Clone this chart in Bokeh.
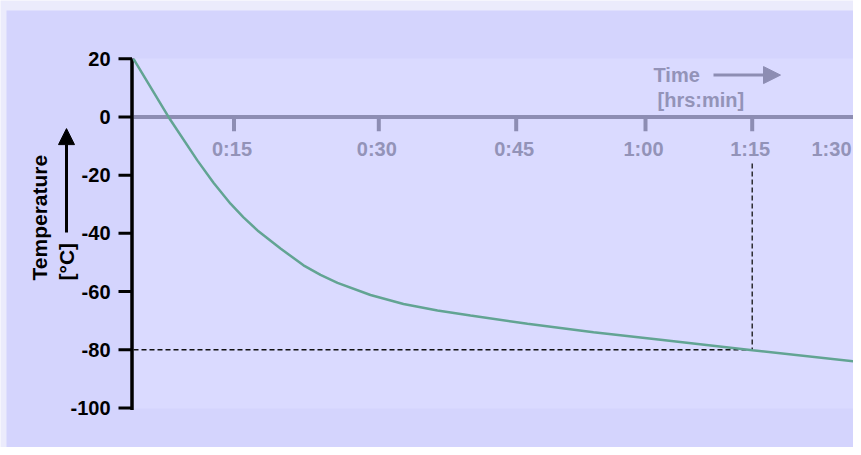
import numpy as np
from bokeh.plotting import figure
from bokeh.models import Range1d, Arrow, NormalHead
from bokeh.core.properties import value
from bokeh.embed import file_html
from bokeh.resources import INLINE

# ---- data ----
y_ticks = [-100, -80, -60, -40, -20, 0, 20]
y_tick_labels = ["-100", "-80", "-60", "-40", "-20", "0", "20"]
time_labels = ["0:15", "0:30", "0:45", "1:00", "1:15", "1:30"]
time_pos = [100.5, 245.3, 382.7, 512.0, 618.7, 700.0]   # place of each time mark along the (non-uniform) time axis
curve_x = [0, 35, 64, 80, 97, 110, 124, 147, 170, 187, 204, 237, 270, 304, 337, 394, 460, 527, 619, 724]
curve_t = [20, 0, -15, -22.6, -29.8, -34.5, -39.0, -45.2, -51.0, -54.3, -57.0, -61.2, -64.3, -66.5,
           -68.2, -71.1, -74.0, -76.6, -80.2, -84.1]
marker_time = 618.7   # 1:15
marker_temp = -80
t_min, t_max = -100.2, 20.1
x_end = 725

FONT = value("Liberation Sans")
AXIS_GRAY = "#8d8db3"
LABEL_GRAY = "#9393b8"
PAGE_BG = "#ebebfc"
PANEL_BG = "#d4d4fd"
INNER_BG = "#dadaff"

k = 350 / (t_max - t_min)             # px per degree
p = figure(width=853, height=447, output_backend="svg", toolbar_location=None,
           x_axis_location=None, y_axis_location=None,
           x_range=Range1d(-133, 720),
           y_range=Range1d(t_max - 389 / k, t_max + 58 / k),
           min_border=0)
p.background_fill_color = PAGE_BG
p.border_fill_color = PAGE_BG
p.outline_line_color = None
p.grid.visible = False

# panels
p.quad(left=[-127], right=[720], bottom=[t_max - 389 / k], top=[t_max + 48 / k],
       fill_color=PANEL_BG, line_color=None)
p.quad(left=[0], right=[x_end], bottom=[t_min], top=[t_max],
       fill_color=INNER_BG, line_color=None)

# x axis drawn at T = 0
p.segment(x0=[0], y0=[0], x1=[x_end], y1=[0], line_color=AXIS_GRAY, line_width=4)
tick_x = time_pos[:5]
p.segment(x0=tick_x, y0=[0] * len(tick_x), x1=tick_x, y1=[-4.9] * len(tick_x),
          line_color=AXIS_GRAY, line_width=4)
p.text(x=time_pos, y=[0] * len(time_pos), text=time_labels, x_offset=-2, y_offset=32,
       text_align="center", text_baseline="middle", text_font=FONT,
       text_font_style="bold", text_font_size="20px", text_color=LABEL_GRAY)

# time axis caption
p.text(x=[520], y=[14.3], text=["Time"], text_align="left", text_baseline="middle",
       text_font=FONT, text_font_style="bold", text_font_size="20px", text_color=LABEL_GRAY)
p.text(x=[524], y=[5.7], text=["[hrs:min]"], text_align="left", text_baseline="middle",
       text_font=FONT, text_font_style="bold", text_font_size="20px", text_color=LABEL_GRAY)
p.add_layout(Arrow(end=NormalHead(size=17, fill_color=AXIS_GRAY, line_color=AXIS_GRAY),
                   x_start=580, y_start=14.4, x_end=647, y_end=14.4,
                   line_color=AXIS_GRAY, line_width=3))

# y axis (temperature)
p.segment(x0=[-1.5], y0=[t_min - 0.5], x1=[-1.5], y1=[t_max], line_color="black", line_width=3.5)
p.segment(x0=[-15] * len(y_ticks), y0=y_ticks, x1=[-1.5] * len(y_ticks), y1=y_ticks,
          line_color="black", line_width=3)
p.text(x=[-23] * len(y_ticks), y=y_ticks, text=y_tick_labels, text_align="right",
       text_baseline="middle", text_font=FONT, text_font_style="bold",
       text_font_size="20px", text_color="black")

# y axis caption
p.text(x=[-94], y=[-56.2], text=["Temperature"], angle=np.pi / 2, text_align="left",
       text_baseline="middle", text_font=FONT, text_font_style="bold",
       text_font_size="21px", text_color="black")
p.text(x=[-67], y=[-56.2], text=["[°C]"], angle=np.pi / 2, text_align="left",
       text_baseline="middle", text_font=FONT, text_font_style="bold",
       text_font_size="21px", text_color="black")
p.add_layout(Arrow(end=NormalHead(size=16, fill_color="black", line_color="black"),
                   x_start=-67, y_start=-39.7, x_end=-67, y_end=-4.0,
                   line_color="black", line_width=3))

# dashed guide lines
p.line(x=[0, marker_time, marker_time], y=[marker_temp, marker_temp, -15.6],
       line_color="#111111", line_width=1.3, line_dash="5 3")

# cooling curve
p.line(x=curve_x, y=curve_t, line_color="#62a493", line_width=2.5)

open("out.html", "w").write(file_html(p, INLINE))
